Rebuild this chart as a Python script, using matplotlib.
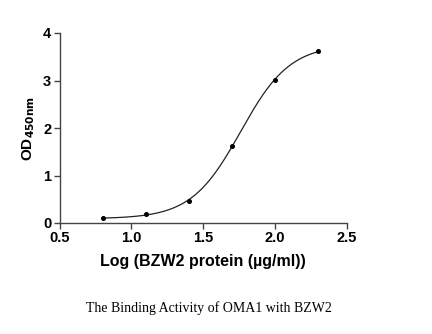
import numpy as np
import matplotlib
matplotlib.use('Agg')
import matplotlib.pyplot as plt

# Datos
log_conc = np.array([0.8, 1.1, 1.4, 1.7, 2.0, 2.3])
od450 = np.array([0.11, 0.18, 0.46, 1.63, 3.01, 3.62])

x_ticks = [0.5, 1.0, 1.5, 2.0, 2.5]
y_ticks = [0, 1, 2, 3, 4]


# Ajuste logistico de 4 parametros (busqueda en malla, bottom/top lineales)
def sigm(x, c, h):
    return 1.0 / (1.0 + 10 ** ((c - x) * h))


best = None
for c in np.linspace(1.4, 2.3, 181):
    for h in np.linspace(0.5, 5.0, 181):
        s = sigm(log_conc, c, h)
        A = np.column_stack([1 - s, s])
        coef, *_ = np.linalg.lstsq(A, od450, rcond=None)
        err = np.sum((A @ coef - od450) ** 2)
        if best is None or err < best[0]:
            best = (err, c, h, coef)

_, c_fit, h_fit, (bottom, top) = best
xs = np.linspace(log_conc.min(), log_conc.max(), 300)
ys = bottom + (top - bottom) * sigm(xs, c_fit, h_fit)

fig = plt.figure(figsize=(4.32, 3.34), dpi=100)
ax = fig.add_axes([59.5 / 432, 1 - 223 / 334, (347 - 59.5) / 432, (223 - 33) / 334])

ax.plot(xs, ys, color='#222222', lw=0.9)
ax.plot(log_conc, od450, 'o', color='black', ms=2.6)

ax.set_xlim(0.5, 2.5)
ax.set_ylim(0, 4)
ax.set_xticks(x_ticks)
ax.set_yticks(y_ticks)
ax.set_xticklabels([f'{t:.1f}' for t in x_ticks])
ax.set_yticklabels([str(t) for t in y_ticks])

for s in ['top', 'right']:
    ax.spines[s].set_visible(False)
for s in ['left', 'bottom']:
    ax.spines[s].set_color('#444444')
    ax.spines[s].set_linewidth(1.0)

ax.tick_params(direction='out', length=4, width=1.0, color='#444444', pad=2)
for lab in ax.get_xticklabels() + ax.get_yticklabels():
    lab.set_fontfamily('Liberation Sans')
    lab.set_fontweight('bold')
    lab.set_fontsize(10.5)

ax.set_xlabel('Log (BZW2 protein (\u00b5g/ml))', fontfamily='Liberation Sans',
              fontweight='bold', fontsize=11.5, labelpad=6)
ax.set_ylabel(r'OD$_{\mathbf{450nm}}$', fontfamily='Liberation Sans',
              fontweight='bold', fontsize=11, labelpad=4)

fig.text(209 / 432, 1 - 308 / 334, 'The Binding Activity of OMA1 with BZW2',
         fontfamily='Liberation Serif', fontsize=10, ha='center', va='center')

fig.savefig('out.png', dpi=100)
